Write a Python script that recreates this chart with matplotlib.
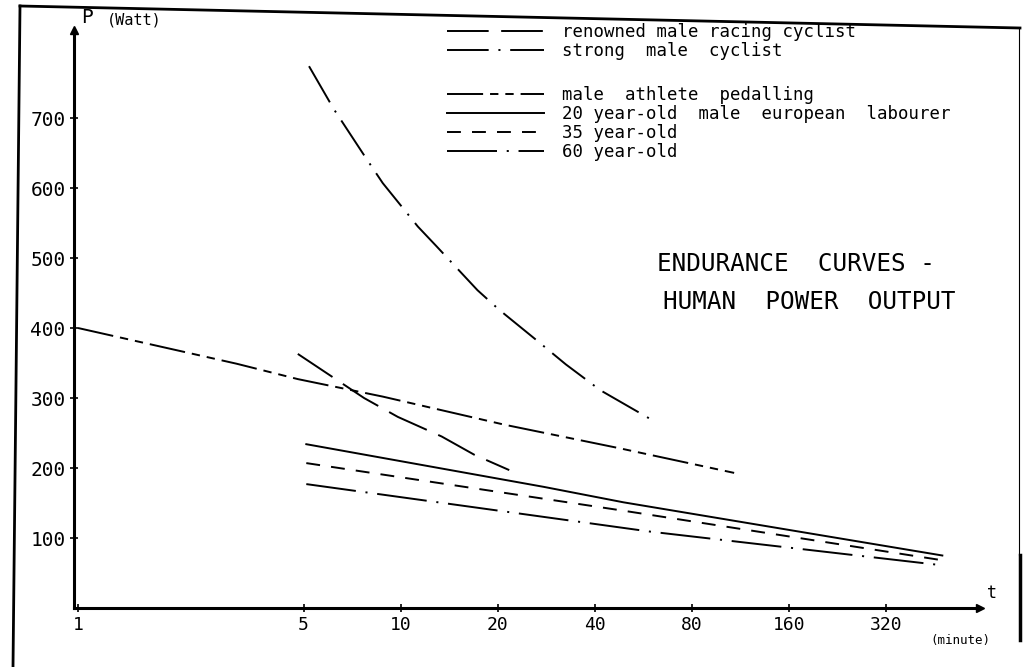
import matplotlib
matplotlib.use("Agg")
import matplotlib.pyplot as plt
from matplotlib.lines import Line2D

# stencil lettering of the original is fixed pitch, so use a mono family
plt.rcParams["font.family"] = ["DejaVu Sans Mono"]
plt.rcParams["lines.scale_dashes"] = False

# endurance time t (minute) and power P (Watt)
strong_t = [5.2, 6.2, 7.8, 8.8, 11.3, 12.9, 17.3, 20.2, 26.3, 32.5, 41.6, 62]
strong_p = [774, 713, 643, 607, 545, 517, 454, 426, 383, 348, 311, 265]

renowned_t = [4.8, 7.7, 9.8, 13.4, 16.9, 21.7]
renowned_p = [363, 300, 273, 245, 219, 197]

athlete_t = [1.0, 3.1, 4.8, 8.8, 20.9, 47.9, 108]
athlete_p = [400, 349, 327, 302, 262, 228, 193]

y20_t = [5.1, 27.8, 49, 477]
y20_p = [234, 173, 151, 75]

y35_t = [5.1, 49, 480]
y35_p = [207, 139, 68]

y60_t = [5.1, 59.6, 477]
y60_p = [177, 109, 61]

x_ticks = [1, 5, 10, 20, 40, 80, 160, 320]
y_ticks = [100, 200, 300, 400, 500, 600, 700]

W, H = 1023, 667


def px_box(x0, y0, x1, y1):
    return [x0 / W, 1 - y1 / H, (x1 - x0) / W, (y1 - y0) / H]


fig = plt.figure(figsize=(W / 100, H / 100), dpi=100)
ax = fig.add_axes(px_box(74, 30, 980, 608))
ax.set_xscale("log", base=2)
ax.set_xlim(2 ** (-4 / 98), 2 ** (910 / 98))
ax.set_ylim(0, 578 / 0.7)

lw = 1.4
ax.plot(renowned_t, renowned_p, color="black", lw=lw, dashes=(30, 9),
        label="renowned male racing cyclist")
ax.plot(strong_t, strong_p, color="black", lw=lw, dashes=(30, 7, 1.5, 7),
        label="strong  male  cyclist")
ax.plot(athlete_t, athlete_p, color="black", lw=lw, dashes=(26, 5, 6, 5, 6, 5),
        label="male  athlete  pedalling")
ax.plot(y20_t, y20_p, color="black", lw=lw,
        label="20 year-old  male  european  labourer")
ax.plot(y35_t, y35_p, color="black", lw=lw, dashes=(10, 8),
        label="35 year-old")
ax.plot(y60_t, y60_p, color="black", lw=lw, dashes=(36, 7, 1.5, 7),
        label="60 year-old")

# axes drawn like the hand-made original
for s in ["top", "right"]:
    ax.spines[s].set_visible(False)
for s in ["left", "bottom"]:
    ax.spines[s].set_linewidth(2.2)
ax.plot(1, 0, ">k", ms=6, transform=ax.transAxes, clip_on=False)
ax.plot(0, 1, "^k", ms=6, transform=ax.transAxes, clip_on=False)

ax.set_xticks(x_ticks)
ax.set_xticklabels([str(v) for v in x_ticks])
ax.xaxis.set_minor_locator(matplotlib.ticker.NullLocator())
ax.set_yticks(y_ticks)
ax.set_yticklabels([str(v) for v in y_ticks])
ax.tick_params(axis="both", direction="inout", length=6, width=1.2, pad=3)
ax.tick_params(axis="x", labelsize=13)
ax.tick_params(axis="y", labelsize=14)

ax.text(0.008, 1.005, "P", transform=ax.transAxes, fontsize=14, va="bottom")
ax.text(0.036, 1.005, "(Watt)", transform=ax.transAxes, fontsize=11,
        va="bottom")
ax.text(1.008, 0.01, "t", transform=ax.transAxes, fontsize=12, va="bottom")
ax.text(0.945, -0.045, "(minute)", transform=ax.transAxes, fontsize=9,
        va="top")

ax.text(0.643, 0.595, "ENDURANCE  CURVES -", transform=ax.transAxes,
        fontsize=17.5, va="center")
ax.text(0.650, 0.53, "HUMAN  POWER  OUTPUT", transform=ax.transAxes,
        fontsize=17.5, va="center")

handles, labels = ax.get_legend_handles_labels()
leg_kw = dict(loc="upper left", bbox_transform=fig.transFigure,
              frameon=False, fontsize=12.5, handlelength=5.6,
              handletextpad=1.0, borderpad=0, borderaxespad=0,
              labelspacing=0.05)
leg1 = ax.legend(handles[:2], labels[:2], bbox_to_anchor=(447 / W, 1 - 23 / H),
                 **leg_kw)
ax.add_artist(leg1)
ax.legend(handles[2:], labels[2:], bbox_to_anchor=(447 / W, 1 - 86 / H),
          **leg_kw)

# border of the scanned page
fig.add_artist(Line2D([20 / W, 1020 / W], [1 - 6 / H, 1 - 28 / H],
                      color="black", lw=2, transform=fig.transFigure))
fig.add_artist(Line2D([20 / W, 13 / W], [1 - 6 / H, 0],
                      color="black", lw=2, transform=fig.transFigure))
fig.add_artist(Line2D([1019 / W, 1019 / W], [1 - 28 / H, 1 - 555 / H],
                      color="black", lw=0.8, transform=fig.transFigure))
fig.add_artist(Line2D([1020 / W, 1020 / W], [1 - 555 / H, 1 - 640 / H],
                      color="black", lw=2.5, transform=fig.transFigure))

fig.savefig("out.png", dpi=100)
